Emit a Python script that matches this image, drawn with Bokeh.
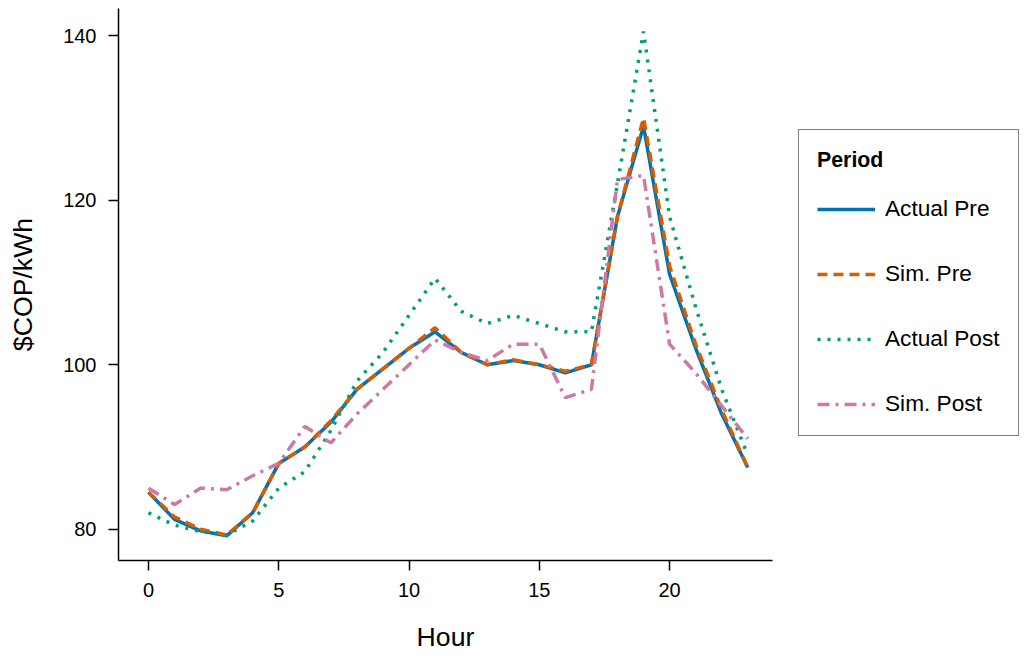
from bokeh.plotting import figure
from bokeh.models import Legend, LegendItem, Range1d
from bokeh.embed import file_html
from bokeh.resources import INLINE

hours = list(range(24))
actual_pre = [84.5, 81.2, 79.8, 79.2, 82, 88, 90, 93, 97, 99.5, 102, 104,
              101.5, 100, 100.5, 100, 99, 100, 118, 129, 111, 102, 94, 87.5]
sim_pre = [84.5, 81.5, 80, 79.3, 82, 88, 90, 93.2, 97, 99.5, 102, 104.5,
           101.5, 100, 100.6, 100, 99.2, 100, 118, 130, 112, 102.5, 94.5, 87.5]
actual_post = [82, 80.5, 79.7, 79.3, 81, 85, 87, 92, 98, 101.5, 106, 110.5,
               106.5, 105, 106, 105, 104, 104, 122, 140.5, 118, 107, 97, 89]
sim_post = [85, 83, 85, 84.8, 86.5, 88, 92.5, 90.5, 94, 97, 100, 103,
            101.5, 100.5, 102.5, 102.5, 96, 97, 122.5, 123, 102.5, 99, 95, 91]

series = [("Actual Pre", actual_pre, "#0072B2", "solid"),
          ("Sim. Pre", sim_pre, "#D55E00", "10 6"),
          ("Actual Post", actual_post, "#009E73", "3 7"),
          ("Sim. Post", sim_post, "#CC79A7", "12 6 3 6")]

p = figure(frame_width=654, frame_height=552, output_backend="svg", toolbar_location=None,
           min_border_left=118, min_border_top=8, min_border_bottom=0,
           x_range=Range1d(-1.15, 23.95), y_range=Range1d(76.2, 143.3))
p.outline_line_color = None
p.xgrid.visible = False
p.ygrid.visible = False

items = []
for name, ys, col, dash in series:
    r = p.line(hours, ys, line_color=col, line_width=3.5, line_dash=dash)
    items.append(LegendItem(label=name, renderers=[r]))

legend = Legend(items=items, title="Period", title_text_font_style="bold",
                title_text_font="Liberation Sans", title_text_font_size="16pt",
                title_text_color="black", title_standoff=22,
                label_text_font="Liberation Sans", label_text_font_size="17pt",
                label_text_color="black",
                border_line_color="black", border_line_width=1.5,
                location=(26, 124), spacing=38, padding=18, glyph_width=58,
                label_standoff=10, margin=0)
p.add_layout(legend, "right")

for ax in (p.xaxis, p.yaxis):
    ax.axis_line_width = 1.5
    ax.major_tick_line_width = 1.5
    ax.minor_tick_line_color = None
    ax.major_tick_in = 0
    ax.major_tick_out = 10
    ax.major_label_standoff = 12
    ax.major_label_text_font = "Liberation Sans"
    ax.major_label_text_font_size = "15pt"
    ax.major_label_text_color = "black"
    ax.axis_label_standoff = 22
    ax.axis_label_text_font = "Liberation Sans"
    ax.axis_label_text_font_size = "20pt"
    ax.axis_label_text_font_style = "normal"
    ax.axis_label_text_color = "black"
p.xaxis.ticker = [0, 5, 10, 15, 20]
p.yaxis.ticker = [80, 100, 120, 140]
p.xaxis.axis_label = "Hour"
p.yaxis.axis_label = "$COP/kWh"

open("out.html", "w").write(file_html(p, INLINE))
